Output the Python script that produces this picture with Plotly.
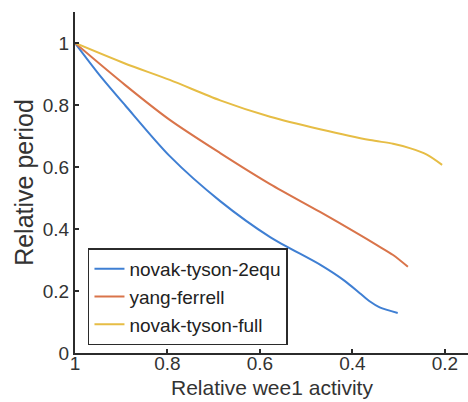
import plotly.graph_objects as go

# Relative wee1 activity (x) and relative period (y) for each model
x_novak2 = [1.0, 0.946, 0.892, 0.795, 0.686, 0.578, 0.470, 0.416, 0.384, 0.362, 0.341, 0.302]
y_novak2 = [1.0, 0.895, 0.800, 0.635, 0.490, 0.374, 0.285, 0.232, 0.193, 0.166, 0.147, 0.129]

x_yang = [1.0, 0.892, 0.795, 0.686, 0.578, 0.470, 0.384, 0.347, 0.312, 0.280]
y_yang = [1.0, 0.865, 0.752, 0.645, 0.545, 0.455, 0.381, 0.348, 0.316, 0.278]

x_novakfull = [1.0, 0.892, 0.795, 0.686, 0.578, 0.470, 0.362, 0.312, 0.276, 0.239, 0.206]
y_novakfull = [1.0, 0.934, 0.881, 0.815, 0.762, 0.722, 0.687, 0.675, 0.661, 0.640, 0.607]

x_ticks = [1, 0.8, 0.6, 0.4, 0.2]
x_ticklabels = ["1", "0.8", "0.6", "0.4", "0.2"]
y_ticks = [0, 0.2, 0.4, 0.6, 0.8, 1]
y_ticklabels = ["0", "0.2", "0.4", "0.6", "0.8", "1"]

x_title = "Relative wee1 activity"
y_title = "Relative period"

series = [
    ("novak-tyson-2equ", x_novak2, y_novak2, "#3f7fd3"),
    ("yang-ferrell", x_yang, y_yang, "#d9744a"),
    ("novak-tyson-full", x_novakfull, y_novakfull, "#e6bd45"),
]

fig = go.Figure()
for name, xs, ys, color in series:
    fig.add_trace(go.Scatter(
        x=xs, y=ys, name=name, mode="lines",
        line=dict(color=color, width=2, shape="spline", smoothing=0.8),
    ))

axis_common = dict(
    showline=True, linecolor="#2b2b2b", linewidth=2,
    ticks="inside", ticklen=4, tickwidth=1.5, tickcolor="#2b2b2b",
    showgrid=False, zeroline=False, mirror=False, automargin=False,
    tickfont=dict(size=19, color="#333333"),
)

fig.update_layout(
    width=468, height=402,
    margin=dict(l=75, r=0, t=12, b=49),
    paper_bgcolor="white", plot_bgcolor="white",
    font=dict(family="Liberation Sans, Arial, sans-serif", color="#333333"),
    xaxis=dict(
        range=[1, 0.15], tickvals=x_ticks, ticktext=x_ticklabels,
        ticklabelstandoff=-8,
        **axis_common,
    ),
    yaxis=dict(
        range=[0, 1.1], tickvals=y_ticks, ticktext=y_ticklabels,
        title=dict(text=y_title, font=dict(size=25), standoff=2),
        **axis_common,
    ),
    legend=dict(
        x=0.033, y=0.022, xanchor="left", yanchor="bottom",
        bgcolor="white", bordercolor="#2b2b2b", borderwidth=1.5,
        font=dict(size=19, color="#222222"),
        tracegroupgap=0, itemwidth=30,
    ),
    showlegend=True,
)

# x-axis title placed just under the tick labels
fig.add_annotation(
    text=x_title, xref="paper", yref="paper", x=0.5, y=0,
    xanchor="center", yanchor="bottom", yshift=-48, showarrow=False,
    font=dict(size=21, color="#333333"),
)

fig.write_html("out.html")
